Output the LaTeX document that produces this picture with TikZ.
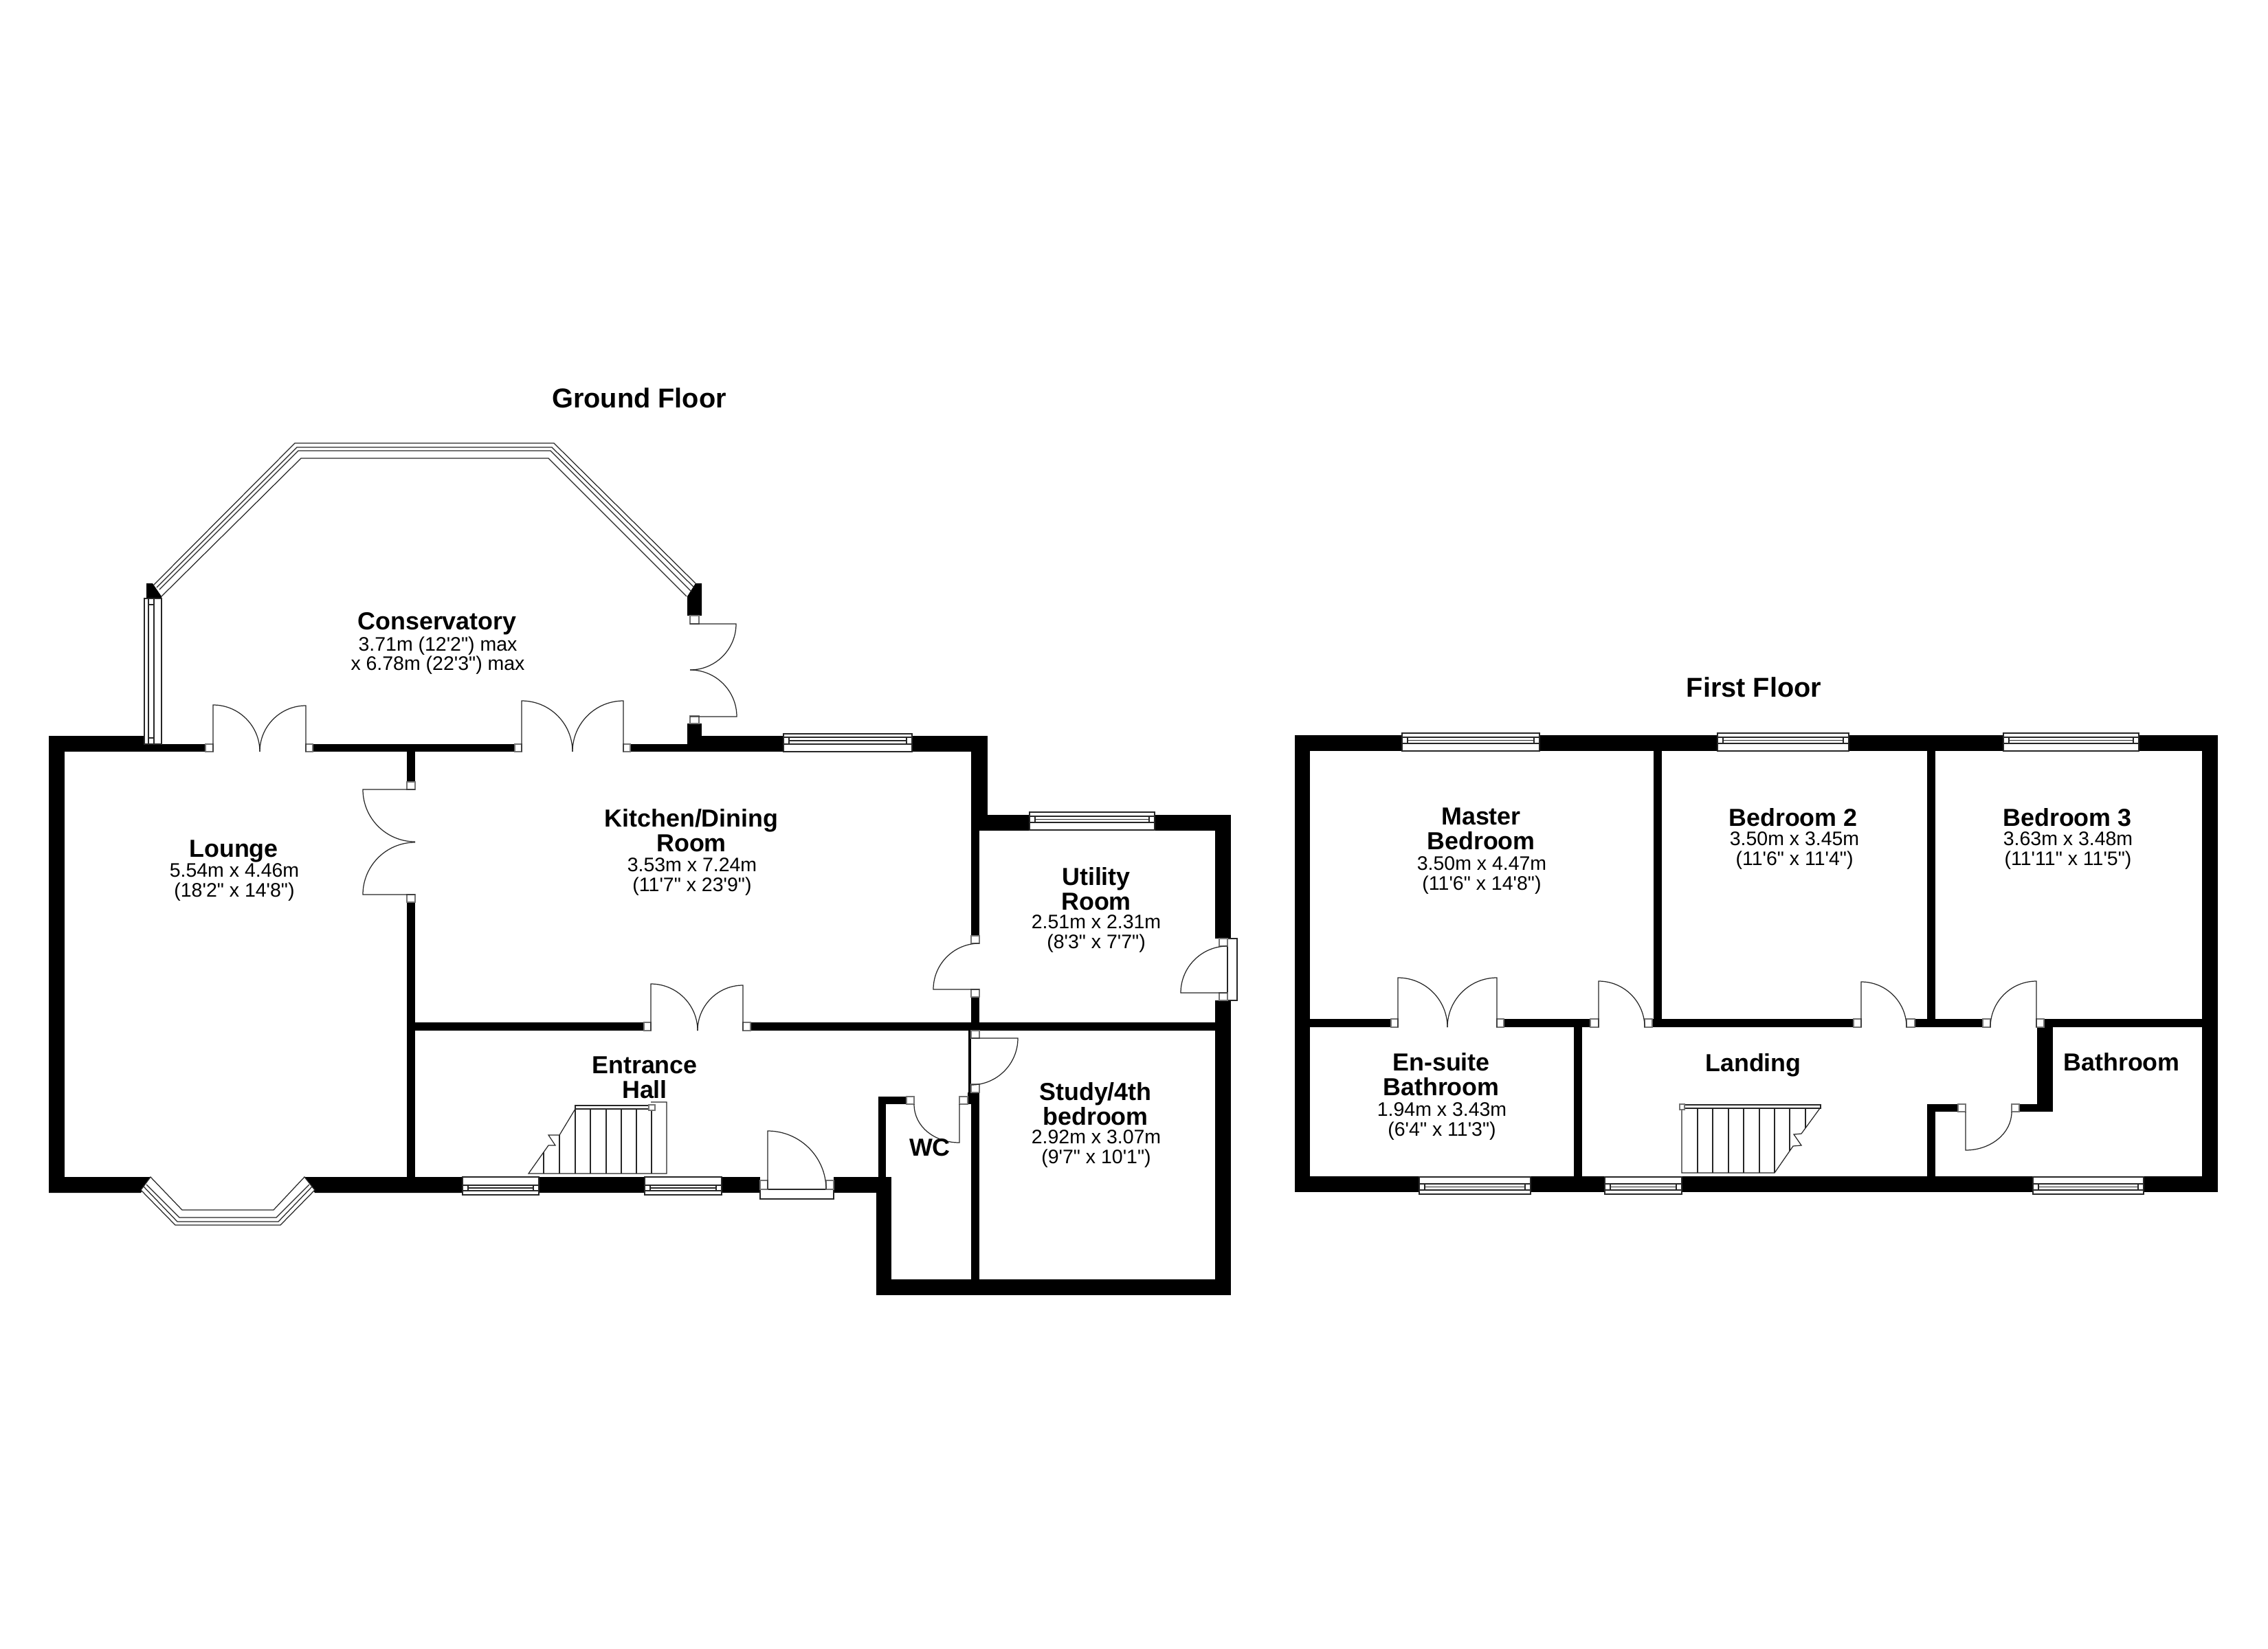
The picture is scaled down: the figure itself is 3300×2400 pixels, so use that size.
\documentclass[tikz,border=0pt]{standalone}
\usepackage{fontspec}
\usetikzlibrary{calc}
\newfontfamily\planfont{Liberation Sans}
\tikzset{
	wall/.style={fill=black},
	glassline/.style={draw=black!85, line width=0.35pt, fill=white},
	jamb/.style={draw=black!55, line width=0.4pt, fill=white},
	swingline/.style={draw=black!85, line width=0.35pt},
	floortitle/.style={inner sep=0pt, align=center, font=\planfont\bfseries\fontsize{11.3}{13}\selectfont},
	roomname/.style={inner sep=0pt, align=center, font=\planfont\bfseries\fontsize{10.2}{10.2}\selectfont},
	roomsize/.style={inner sep=0pt, align=center, font=\planfont\fontsize{8.1}{8.1}\selectfont}
}
\def\swing(#1,#2)(#3:#4:#5){\draw[swingline] (#1,#2) -- ($(#1,#2)+({#5*cos(#3)},{-#5*sin(#3)})$) arc (#3:#4:#5*0.01cm);}
\def\window(#1,#2)(#3,#4)(#5,#6){
	\draw[glassline] (#1,#2) rectangle (#3,#4);
	\draw[glassline] (#1,#5) -- (#3,#5) (#1,#6) -- (#3,#6);
	\draw[glassline] ({#1+8},#5) -- ({#1+8},#6) ({#3-8},#5) -- ({#3-8},#6);
	\draw[glassline] ({#1+8},{(#5+#6)/2}) -- ({#3-8},{(#5+#6)/2});
}
\begin{document}
\begin{tikzpicture}[x=0.01cm, y=-0.01cm]
	\useasboundingbox (0,0) rectangle (3300,2400);
	%%%%% GROUND FLOOR WALLS %%%%%
	\fill[wall] (71,1071) rectangle (210,1094);
	\fill[wall] (71,1071) rectangle (94,1736);
	\fill[wall] (210,1083) rectangle (299,1094);
	\fill[wall] (455,1083) rectangle (749,1094);
	\fill[wall] (917,1083) rectangle (1000,1094);
	\fill[wall] (1000,1053) rectangle (1021,1094);
	\fill[wall] (1021,1071) rectangle (1140,1094);
	\fill[wall] (1327,1071) rectangle (1437,1094);
	\fill[wall] (1413,1071) rectangle (1437,1209);
	\fill[wall] (1413,1186) rectangle (1498,1209);
	\fill[wall] (1680,1186) rectangle (1791,1209);
	\fill[wall] (1768,1186) rectangle (1791,1366);
	\fill[wall] (1768,1456) rectangle (1791,1885);
	\fill[wall] (1413,1209) rectangle (1425,1362);
	\fill[wall] (1413,1451) rectangle (1425,1500);
	\fill[wall] (604,1488) rectangle (937,1500);
	\fill[wall] (1092,1488) rectangle (1768,1500);
	\fill[wall] (1409,1500) rectangle (1413,1590);
	\fill[wall] (1408,1590) rectangle (1425,1607);
	\fill[wall] (1413,1607) rectangle (1425,1885);
	\fill[wall] (1278,1596) rectangle (1319,1607);
	\fill[wall] (1278,1596) rectangle (1289,1713);
	\fill[wall] (1275,1713) rectangle (1297,1885);
	\fill[wall] (1275,1862) rectangle (1791,1885);
	\fill[wall] (1213,1713) rectangle (1297,1736);
	\fill[wall] (592,1094) rectangle (604,1138);
	\fill[wall] (592,1313) rectangle (604,1713);
	\fill[wall] (71,1713) -- (219,1713) -- (205,1736) -- (71,1736) -- cycle;
	\fill[wall] (443,1713) -- (673,1713) -- (673,1736) -- (458,1736) -- cycle;
	\fill[wall] (784,1713) rectangle (938,1736);
	\fill[wall] (1050,1713) rectangle (1106,1736);
	\fill[wall] (213,849) -- (222,849) -- (235,868) -- (235,871) -- (213,871) -- cycle;
	\fill[wall] (1012,849) -- (1021,849) -- (1021,896) -- (1000,896) -- (1000,868) -- cycle;

	%%%%% CONSERVATORY GLASS %%%%%
	\draw[glassline, fill=none] (223,852) -- (429,645) -- (806,645) -- (1012,849);
	\draw[glassline, fill=none] (228,855) -- (432,651) -- (803,651) -- (1010,855);
	\draw[glassline, fill=none] (232,858) -- (434,656) -- (801,656) -- (1006,861);
	\draw[glassline, fill=none] (235,868) -- (438,667) -- (798,667) -- (999,868);
	\draw[glassline] (210,871) rectangle (235,1083);
	\draw[glassline] (216,880) rectangle (224,1074);
	\draw[glassline, fill=none] (216,871) -- (216,1083) (224,871) -- (224,1083) (216,1074) -- (224,1074);

	%%%%% BAY AND GROUND FLOOR WINDOWS %%%%%
	\draw[glassline] (219,1713) -- (205,1732) -- (255,1783) -- (408,1783) -- (458,1732) -- (443,1713) -- (398,1761) -- (265,1761) -- cycle;
	\draw[glassline, fill=none] (213,1724) -- (261,1772) -- (402,1772) -- (450,1724);
	\draw[glassline, fill=none] (209,1727) -- (258,1778) -- (405,1778) -- (454,1727);
	\window(1140,1068)(1327,1094)(1073,1083)
	\window(1498,1182)(1680,1208)(1188,1197)
	\window(673,1713)(784,1739)(1725,1733)
	\window(938,1713)(1050,1739)(1725,1733)
	\draw[glassline] (1106,1731) rectangle (1213,1745);
	\draw[glassline] (1786,1366) rectangle (1800,1456);

	%%%%% GROUND FLOOR JAMBS %%%%%
	\draw[jamb] (299,1083) rectangle (310,1094);
	\draw[jamb] (445,1083) rectangle (455,1094);
	\draw[jamb] (749,1083) rectangle (759,1094);
	\draw[jamb] (907,1083) rectangle (917,1094);
	\draw[jamb] (1004,896) rectangle (1017,908);
	\draw[jamb] (1004,1042) rectangle (1017,1053);
	\draw[jamb] (592,1138) rectangle (604,1149);
	\draw[jamb] (592,1302) rectangle (604,1313);
	\draw[jamb] (937,1488) rectangle (947,1500);
	\draw[jamb] (1081,1488) rectangle (1092,1500);
	\draw[jamb] (1413,1362) rectangle (1425,1373);
	\draw[jamb] (1413,1440) rectangle (1425,1451);
	\draw[jamb] (1774,1366) rectangle (1786,1377);
	\draw[jamb] (1774,1445) rectangle (1786,1456);
	\draw[jamb] (1413,1500) rectangle (1425,1511);
	\draw[jamb] (1413,1578) rectangle (1425,1590);
	\draw[jamb] (1319,1596) rectangle (1330,1607);
	\draw[jamb] (1396,1596) rectangle (1408,1607);
	\draw[jamb] (1106,1718) rectangle (1117,1731);
	\draw[jamb] (1202,1718) rectangle (1213,1731);

	%%%%% GROUND FLOOR DOORS %%%%%
	\swing(310,1094)(90:0:68)
	\swing(445,1094)(90:180:67)
	\swing(759,1094)(90:0:74)
	\swing(907,1094)(90:180:74)
	\swing(1004,908)(0:-90:67)
	\swing(1004,1043)(0:90:68)
	\swing(604,1149)(180:270:76)
	\swing(604,1302)(180:90:76)
	\swing(947,1500)(90:0:68)
	\swing(1081,1500)(90:180:66)
	\swing(1425,1440)(180:90:67)
	\swing(1786,1445)(180:90:68)
	\swing(1413,1511)(0:-90:68)
	\swing(1117,1731)(90:0:85)
	\draw[swingline] (1396,1607) -- (1396,1663) .. controls (1360,1663) and (1330,1640) .. (1330,1607);

	%%%%% GROUND FLOOR STAIRS %%%%%
	\draw[glassline] (837,1609) rectangle (947,1614);
	\draw[swingline] (947,1604) -- (970,1604) -- (970,1708) -- (769,1708) -- (798,1667) -- (808,1667) -- (798,1652) -- (814,1652) -- (837,1614);
	\draw[swingline] (948,1614) -- (948,1708) (926,1614) -- (926,1708) (904,1614) -- (904,1708) (882,1614) -- (882,1708) (859,1614) -- (859,1708) (837,1614) -- (837,1708) (814,1652) -- (814,1708) (791,1677) -- (791,1708);
	\draw[jamb] (944,1608) rectangle (953,1616);

	%%%%% FIRST FLOOR WALLS %%%%%
	\fill[wall] (1884,1070) rectangle (2040,1093);
	\fill[wall] (2240,1070) rectangle (2499,1093);
	\fill[wall] (2690,1070) rectangle (2915,1093);
	\fill[wall] (3112,1070) rectangle (3227,1093);
	\fill[wall] (1884,1070) rectangle (1906,1735);
	\fill[wall] (3204,1070) rectangle (3227,1735);
	\fill[wall] (2406,1093) rectangle (2418,1495);
	\fill[wall] (2804,1093) rectangle (2816,1495);
	\fill[wall] (1906,1483) rectangle (2024,1495);
	\fill[wall] (2188,1483) rectangle (2314,1495);
	\fill[wall] (2404,1483) rectangle (2697,1495);
	\fill[wall] (2786,1483) rectangle (2885,1495);
	\fill[wall] (2974,1483) rectangle (3204,1495);
	\fill[wall] (2290,1495) rectangle (2302,1712);
	\fill[wall] (2964,1495) rectangle (2987,1618);
	\fill[wall] (2938,1607) rectangle (2987,1618);
	\fill[wall] (2804,1607) rectangle (2849,1618);
	\fill[wall] (2804,1607) rectangle (2816,1712);
	\fill[wall] (1884,1712) rectangle (2065,1735);
	\fill[wall] (2227,1712) rectangle (2335,1735);
	\fill[wall] (2447,1712) rectangle (2958,1735);
	\fill[wall] (3119,1712) rectangle (3227,1735);

	%%%%% FIRST FLOOR WINDOWS %%%%%
	\window(2040,1067)(2240,1093)(1073,1082)
	\window(2499,1067)(2690,1093)(1073,1082)
	\window(2915,1067)(3112,1093)(1073,1082)
	\window(2065,1713)(2227,1738)(1723,1732)
	\window(2335,1713)(2447,1738)(1723,1732)
	\window(2958,1713)(3119,1738)(1723,1732)

	%%%%% FIRST FLOOR JAMBS %%%%%
	\draw[jamb] (2024,1483) rectangle (2034,1495);
	\draw[jamb] (2178,1483) rectangle (2188,1495);
	\draw[jamb] (2314,1483) rectangle (2326,1495);
	\draw[jamb] (2393,1483) rectangle (2404,1495);
	\draw[jamb] (2697,1483) rectangle (2708,1495);
	\draw[jamb] (2774,1483) rectangle (2786,1495);
	\draw[jamb] (2885,1483) rectangle (2896,1495);
	\draw[jamb] (2963,1483) rectangle (2974,1495);
	\draw[jamb] (2849,1607) rectangle (2860,1618);
	\draw[jamb] (2927,1607) rectangle (2938,1618);

	%%%%% FIRST FLOOR DOORS %%%%%
	\swing(2034,1495)(90:0:72)
	\swing(2178,1495)(90:180:72)
	\swing(2326,1495)(90:0:67)
	\swing(2708,1495)(90:0:66)
	\swing(2963,1495)(90:180:67)
	\draw[swingline] (2860,1618) -- (2860,1674) .. controls (2896,1674) and (2927,1650) .. (2927,1618);

	%%%%% FIRST FLOOR STAIRS %%%%%
	\draw[glassline] (2447,1608) rectangle (2649,1613);
	\draw[swingline] (2447,1613) -- (2447,1707) -- (2582,1707) -- (2609,1668) -- (2621,1667) -- (2610,1651) -- (2621,1650) -- (2648,1613);
	\draw[swingline] (2470,1613) -- (2470,1707) (2492,1613) -- (2492,1707) (2515,1613) -- (2515,1707) (2537,1613) -- (2537,1707) (2560,1613) -- (2560,1707) (2582,1613) -- (2582,1707) (2604,1613) -- (2604,1675) (2627,1613) -- (2627,1642);
	\draw[jamb] (2444,1607) rectangle (2451,1615);

	%%%%% LABELS %%%%%
	\node[floortitle] (groundtitle) at (930,579) {Ground Floor};
	\node[floortitle] (firsttitle) at (2552,1000) {First Floor};

	\node[roomname] (conservatory) at (636,908) {Conservatory};
	\node[roomsize] (conservatorysize) at (637,954) {3.71m (12'2") max\\x 6.78m (22'3") max};
	\node[roomname] (lounge) at (340,1239) {Lounge};
	\node[roomsize] (loungesize) at (341,1284) {5.54m x 4.46m\\(18'2" x 14'8")};
	\node[roomname] (kitchen) at (1006,1209) {Kitchen/Dining\\Room};
	\node[roomsize] (kitchensize) at (1007,1276) {3.53m x 7.24m\\(11'7" x 23'9")};
	\node[roomname] (utility) at (1595,1294) {Utility\\Room};
	\node[roomsize] (utilitysize) at (1595,1359) {2.51m x 2.31m\\(8'3" x 7'7")};
	\node[roomname] (hall) at (938,1568) {Entrance\\Hall};
	\node[roomname] (wc) at (1353,1670) {WC};
	\node[roomname] (study) at (1594,1607) {Study/4th\\bedroom};
	\node[roomsize] (studysize) at (1595,1672) {2.92m x 3.07m\\(9'7" x 10'1")};

	\node[roomname] (master) at (2155,1206) {Master\\Bedroom};
	\node[roomsize] (mastersize) at (2156,1274) {3.50m x 4.47m\\(11'6" x 14'8")};
	\node[roomname] (bedtwo) at (2609,1190) {Bedroom 2};
	\node[roomsize] (bedtwosize) at (2611,1238) {3.50m x 3.45m\\(11'6" x 11'4")};
	\node[roomname] (bedthree) at (3008,1190) {Bedroom 3};
	\node[roomsize] (bedthreesize) at (3009,1238) {3.63m x 3.48m\\(11'11" x 11'5")};
	\node[roomname] (ensuite) at (2097,1564) {En-suite\\Bathroom};
	\node[roomsize] (ensuitesize) at (2098,1632) {1.94m x 3.43m\\(6'4" x 11'3")};
	\node[roomname] (landing) at (2551,1550) {Landing};
	\node[roomname] (bathroom) at (3087,1546) {Bathroom};
\end{tikzpicture}
\end{document}
